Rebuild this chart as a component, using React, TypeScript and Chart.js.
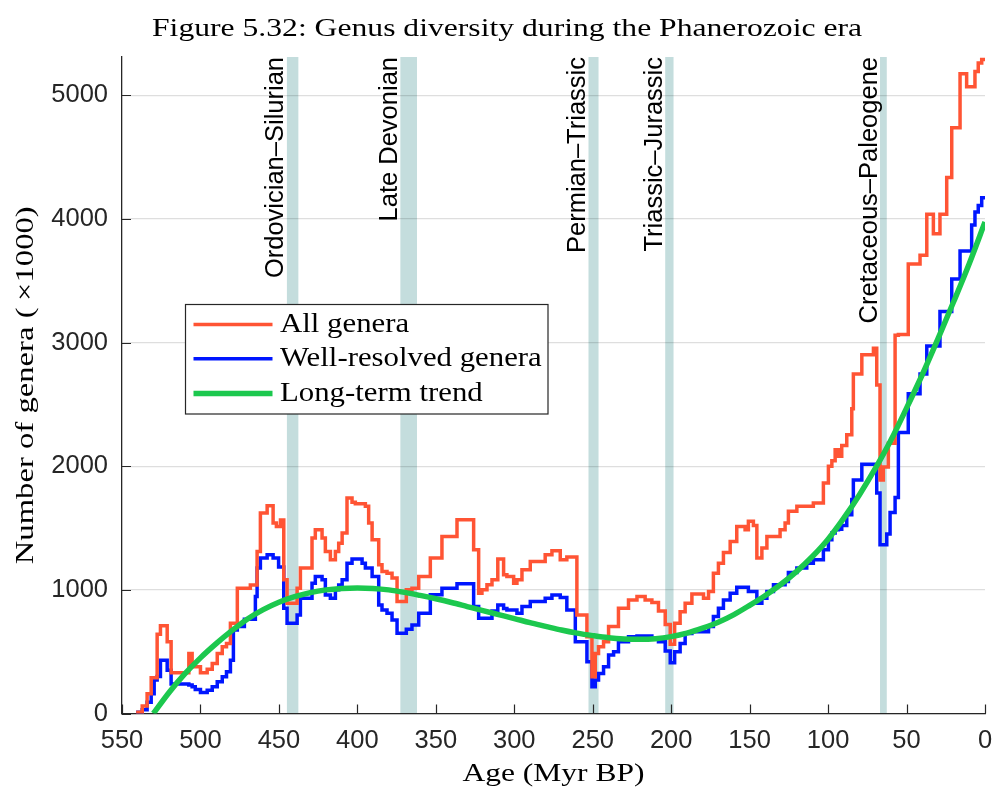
import React, { useEffect, useRef } from 'react';
import { Chart, registerables } from 'chart.js';

Chart.register(...registerables);

// ---- data (ages in Myr BP, values = number of genera) ----
const binAges = [
  541.0, 537.1, 534.0, 531.4, 529.5, 527.6, 525.5, 521.2, 518.7, 507.4,
  505.3, 503.3, 500.0, 495.7, 492.5, 489.3, 486.1, 483.4, 480.9, 479.0,
  476.5, 472.0, 468.2, 465.0, 463.9, 461.8, 457.5, 453.7, 451.6, 450.2,
  449.0, 446.9, 444.8, 438.4, 436.3, 428.9, 426.8, 422.5, 420.4, 417.2,
  414.0, 411.9, 409.7, 406.6, 403.4, 401.3, 397.0, 394.9, 392.8, 390.6,
  386.4, 384.3, 381.1, 377.9, 374.7, 368.8, 365.2, 360.9, 353.5, 346.1,
  336.5, 325.9, 322.7, 320.6, 317.4, 314.2, 310.5, 306.8, 304.7, 300.4,
  298.3, 295.1, 289.8, 280.3, 276.0, 270.7, 266.5, 261.1, 260.1, 253.7,
  250.5, 248.4, 246.3, 243.1, 239.9, 236.7, 233.6, 227.2, 221.8, 216.6,
  212.3, 208.1, 203.8, 200.6, 197.8, 194.3, 191.1, 186.8, 179.4, 176.2,
  173.1, 169.9, 166.7, 162.4, 158.2, 152.9, 150.8, 147.6, 145.4, 142.2,
  139.0, 134.8, 130.6, 127.4, 125.3, 119.9, 113.6, 109.4, 103.0, 99.8,
  97.6, 95.5, 93.4, 91.3, 88.1, 84.9, 83.9, 78.5, 71.1, 69.0,
  66.9, 64.8, 62.6, 61.6, 60.5, 57.3, 55.2, 48.9, 41.4, 37.1,
  32.9, 28.7, 24.4, 21.2, 15.9, 11.7, 8.5, 6.4, 4.3, 2.1,
  0,
];

const allGenera = [
  10, 60, 160, 290, 290, 640, 710, 580, 330, 486,
  378, 378, 330, 357, 405, 486, 540, 567, 730, 730,
  1014, 1014, 1040, 1040, 1311, 1622, 1681, 1541, 1513, 1513,
  1565, 1081, 892, 1014, 1176, 1419, 1487, 1419, 1311, 1243,
  1311, 1378, 1460, 1744, 1708, 1697, 1697, 1676, 1541, 1405,
  1203, 1149, 1135, 1095, 905, 1000, 1014, 1108, 1257, 1432,
  1568, 1324, 973, 1000, 1041, 1081, 1249, 1122, 1108, 1054,
  1081, 1162, 1230, 1284, 1316, 1243, 1265, 1265, 797, 621,
  297, 486, 540, 581, 703, 703, 851, 919, 946, 919,
  897, 830, 720, 560, 730, 824, 892, 967, 932, 986,
  1135, 1216, 1303, 1392, 1513, 1486, 1554, 1520, 1257, 1338,
  1432, 1432, 1486, 1541, 1635, 1676, 1676, 1703, 1865, 2000,
  2045, 2133, 2080, 2168, 2255, 2465, 2745, 2902, 2955, 2657,
  1888, 1993, 1993, 2185, 2185, 3059, 3066, 3636, 3706, 4038,
  3881, 4038, 4336, 4738, 5175, 5070, 5070, 5192, 5262, 5290,
  5290,
];

const wellResolved = [
  10, 30, 90, 160, 270, 300, 430, 350, 238, 230,
  216, 194, 170, 189, 216, 256, 297, 338, 430, 676,
  703, 762, 762, 946, 1176, 1257, 1284, 1257, 1257, 1184,
  1184, 852, 730, 797, 932, 1054, 1108, 1081, 959, 932,
  1000, 1040, 1081, 1216, 1249, 1249, 1216, 1176, 1176, 1108,
  878, 838, 811, 757, 649, 681, 716, 811, 960, 1014,
  1049, 865, 770, 770, 770, 830, 878, 850, 838, 838,
  811, 865, 905, 932, 959, 938, 838, 581, 581, 419,
  216, 270, 324, 378, 473, 500, 581, 621, 627, 627,
  608, 580, 505, 410, 500, 567, 648, 662, 662, 703,
  784, 851, 919, 973, 1022, 1022, 986, 986, 892, 932,
  986, 1041, 1041, 1068, 1140, 1176, 1216, 1243, 1324, 1405,
  1459, 1486, 1490, 1521, 1608, 1731, 1888, 2017, 2017, 1783,
  1364, 1364, 1451, 1451, 1626, 1748, 2273, 2587, 2745, 2972,
  2972, 3252, 3252, 3514, 3741, 3741, 3951, 4056, 4108, 4171,
  4171,
];

const trendAges = [
  530, 520, 510, 500, 490, 480, 470, 460, 450, 440,
  430, 420, 410, 400, 390, 380, 370, 360, 350, 340,
  330, 320, 310, 300, 290, 280, 270, 260, 250, 240,
  230, 220, 210, 200, 190, 180, 170, 160, 150, 140,
  130, 120, 110, 100, 90, 80, 70, 60, 50, 40,
  30, 20, 10, 0,
];
const trendValues = [
  0, 170, 320, 450, 565, 670, 765, 840, 900, 945,
  978, 1000, 1012, 1016, 1012, 1000, 980, 955, 928, 898,
  865, 832, 800, 768, 735, 705, 675, 650, 630, 613,
  603, 600, 605, 622, 650, 690, 738, 800, 875, 955,
  1045, 1150, 1270, 1410, 1580, 1770, 1980, 2210, 2470, 2740,
  3030, 3330, 3640, 3975,
];

const xTicks = [550, 500, 450, 400, 350, 300, 250, 200, 150, 100, 50, 0];
const yTicks = [0, 1000, 2000, 3000, 4000, 5000];

const extinctionNames = [
  'Ordovician\u2013Silurian',
  'Late Devonian',
  'Permian\u2013Triassic',
  'Triassic\u2013Jurassic',
  'Cretaceous\u2013Paleogene',
];
const extinctionStart = [444.9, 372.6, 252.7, 203.8, 66.9];
const extinctionEnd = [437.6, 362.0, 246.3, 198.5, 62.6];

const seriesNames = ['All genera', 'Well-resolved genera', 'Long-term trend'];

const titleText = 'Figure 5.32: Genus diversity during the Phanerozoic era';
const xTitle = 'Age (Myr BP)';
const yTitle = 'Number of genera (\u2009\u00d71000)';

// ---- styles ----
const RED = 'rgb(255, 84, 52)';
const BLUE = 'rgb(0, 22, 255)';
const GREEN = 'rgb(28, 200, 78)';
const BAND = 'rgb(196, 221, 221)';
const AXIS = '#262626';
const SANS = '"Liberation Sans", Arial, Helvetica, sans-serif';
const SERIF = '"Liberation Serif", "Times New Roman", serif';

function fitText(
  ctx: CanvasRenderingContext2D,
  text: string,
  x: number,
  y: number,
  font: string,
  width: number,
  align: CanvasTextAlign,
  rotate = false,
) {
  ctx.save();
  ctx.font = font;
  const w = ctx.measureText(text).width;
  const sx = width / w;
  ctx.translate(x, y);
  if (rotate) ctx.rotate(-Math.PI / 2);
  ctx.scale(sx, 1);
  ctx.textAlign = align;
  ctx.textBaseline = 'alphabetic';
  ctx.fillText(text, 0, 0);
  ctx.restore();
}

const overlayPlugin = {
  id: 'overlayPlugin',
  beforeDraw(chart: any) {
    const { ctx, chartArea: a, scales } = chart;
    const xs = scales.x;
    ctx.save();
    ctx.fillStyle = BAND;
    for (let i = 0; i < extinctionStart.length; i++) {
      const p0 = xs.getPixelForValue(extinctionStart[i]);
      const p1 = xs.getPixelForValue(extinctionEnd[i]);
      ctx.fillRect(Math.min(p0, p1), a.top, Math.abs(p1 - p0), a.bottom - a.top);
    }
    ctx.restore();
  },
  afterDraw(chart: any) {
    const { ctx, chartArea: a, scales } = chart;
    const xs = scales.x;
    const ys = scales.y;
    ctx.save();
    // inward tick marks
    ctx.strokeStyle = AXIS;
    ctx.lineWidth = 1.2;
    ctx.beginPath();
    for (const v of xTicks) {
      const px = Math.round(xs.getPixelForValue(v)) + 0.5;
      ctx.moveTo(px, a.bottom);
      ctx.lineTo(px, a.bottom - 9);
    }
    for (const v of yTicks) {
      const py = Math.round(ys.getPixelForValue(v)) + 0.5;
      ctx.moveTo(a.left, py);
      ctx.lineTo(a.left + 9, py);
    }
    ctx.stroke();

    // extinction labels
    ctx.fillStyle = '#000';
    ctx.font = `25.5px ${SANS}`;
    for (let i = 0; i < extinctionNames.length; i++) {
      const p0 = xs.getPixelForValue(extinctionStart[i]);
      ctx.save();
      ctx.translate(p0 - 3.5, a.top);
      ctx.rotate(-Math.PI / 2);
      ctx.textAlign = 'right';
      ctx.textBaseline = 'alphabetic';
      ctx.fillText(extinctionNames[i], 0, 0);
      ctx.restore();
    }

    // title and axis titles
    ctx.fillStyle = '#000';
    fitText(ctx, titleText, 152, 36, `26px ${SERIF}`, 710, 'left');
    fitText(ctx, xTitle, (a.left + a.right) / 2, 780.5, `26px ${SERIF}`, 182, 'center');
    fitText(ctx, yTitle, 32.5, (a.top + a.bottom) / 2, `26px ${SERIF}`, 358, 'center', true);

    // legend
    const bx = 185.5, by = 304.5, bw = 362.5, bh = 109.5;
    ctx.fillStyle = '#fff';
    ctx.fillRect(bx, by, bw, bh);
    ctx.strokeStyle = AXIS;
    ctx.lineWidth = 1.2;
    ctx.strokeRect(bx, by, bw, bh);
    const colors = [RED, BLUE, GREEN];
    const widths = [3.5, 3.5, 5.5];
    const rowY = [324.5, 358.8, 393.5];
    for (let i = 0; i < seriesNames.length; i++) {
      ctx.strokeStyle = colors[i];
      ctx.lineWidth = widths[i];
      ctx.beginPath();
      ctx.moveTo(193.5, rowY[i]);
      ctx.lineTo(272.5, rowY[i]);
      ctx.stroke();
      ctx.save();
      ctx.fillStyle = '#000';
      ctx.font = `28px ${SERIF}`;
      ctx.translate(280, rowY[i] + 7.3);
      ctx.scale(1.1, 1);
      ctx.textAlign = 'left';
      ctx.textBaseline = 'alphabetic';
      ctx.fillText(seriesNames[i], 0, 0);
      ctx.restore();
    }
    ctx.restore();
  },
};

export default function App() {
  const canvasRef = useRef<HTMLCanvasElement | null>(null);

  useEffect(() => {
    document.body.style.margin = '0';
    const canvas = canvasRef.current;
    if (!canvas) return;

    const allPts = binAges.map((x, i) => ({ x, y: allGenera[i] }));
    const wellPts = binAges.map((x, i) => ({ x, y: wellResolved[i] }));
    const trendPts = trendAges.map((x, i) => ({ x, y: trendValues[i] }));

    const chart = new Chart(canvas, {
      type: 'line',
      data: {
        datasets: [
          {
            label: seriesNames[2],
            data: trendPts,
            borderColor: GREEN,
            borderWidth: 5.5,
            pointRadius: 0,
            cubicInterpolationMode: 'monotone',
            fill: false,
          },
          {
            label: seriesNames[0],
            data: allPts,
            borderColor: RED,
            borderWidth: 3.5,
            pointRadius: 0,
            stepped: true,
            borderJoinStyle: 'miter',
            fill: false,
          },
          {
            label: seriesNames[1],
            data: wellPts,
            borderColor: BLUE,
            borderWidth: 3.5,
            pointRadius: 0,
            stepped: true,
            borderJoinStyle: 'miter',
            fill: false,
          },
        ],
      },
      options: {
        animation: false,
        responsive: false,
        devicePixelRatio: 1,
        parsing: false,
        normalized: true,
        layout: { padding: { top: 57, right: 7, left: 0, bottom: 0 } },
        plugins: {
          legend: { display: false },
          tooltip: { enabled: false },
          title: { display: false },
        },
        scales: {
          x: {
            type: 'linear',
            reverse: true,
            min: 0,
            max: 550,
            afterBuildTicks: (s: any) => {
              s.ticks = xTicks.map((v) => ({ value: v }));
            },
            afterFit: (s: any) => {
              s.height = 73.5;
              s.paddingLeft = 0;
              s.paddingRight = 0;
            },
            grid: { color: 'rgba(0,0,0,0)', drawTicks: false },
            border: { display: true, color: AXIS, width: 1.3 },
            ticks: {
              autoSkip: false,
              maxRotation: 0,
              padding: 12,
              color: AXIS,
              font: { family: SANS, size: 25.5 },
              callback: (v: any) => String(v),
            },
          },
          y: {
            type: 'linear',
            min: 0,
            max: 5310,
            afterBuildTicks: (s: any) => {
              s.ticks = yTicks.map((v) => ({ value: v }));
            },
            afterFit: (s: any) => {
              s.width = 122;
              s.paddingTop = 0;
              s.paddingBottom = 0;
            },
            grid: { color: 'rgba(0,0,0,0.13)', lineWidth: 1.2, drawTicks: false },
            border: { display: true, color: AXIS, width: 1.3 },
            ticks: {
              autoSkip: false,
              padding: 14,
              color: AXIS,
              font: { family: SANS, size: 25.5 },
              callback: (v: any) => String(v),
            },
          },
        },
      },
      plugins: [overlayPlugin],
    } as any);

    return () => chart.destroy();
  }, []);

  return (
    <div style={{ width: 992, height: 787, position: 'relative', background: '#fff' }}>
      <canvas ref={canvasRef} width={992} height={787} style={{ width: 992, height: 787, display: 'block' }} />
    </div>
  );
}
